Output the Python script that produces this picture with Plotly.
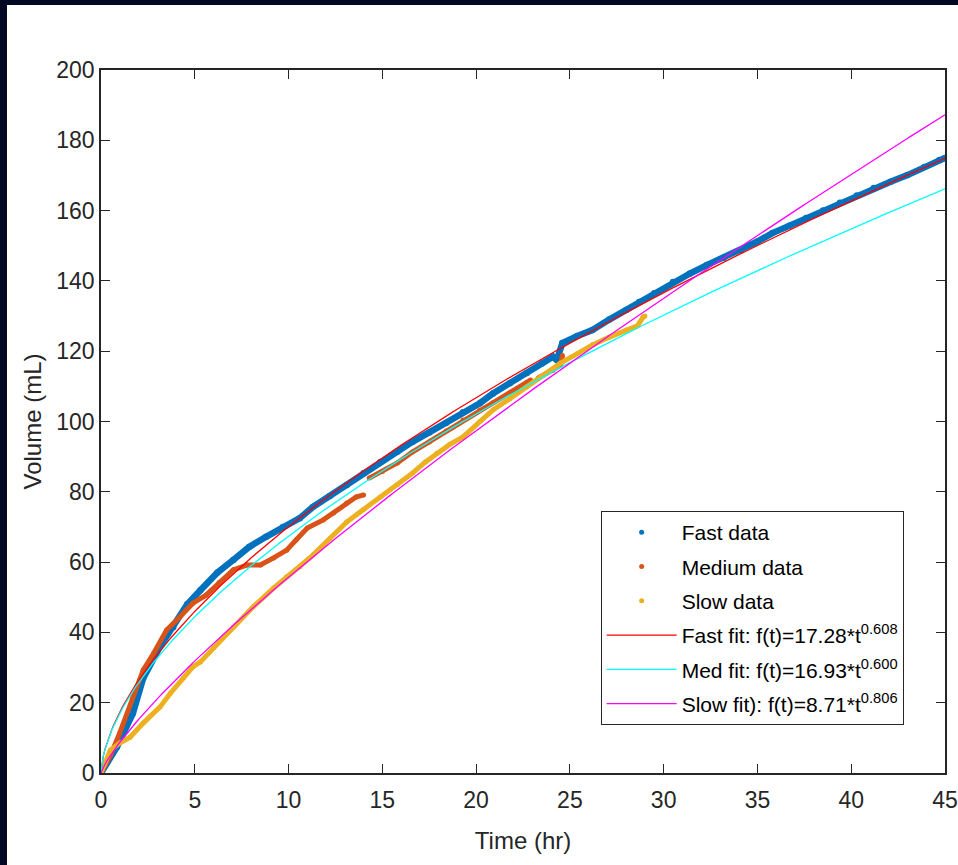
import numpy as np
import plotly.graph_objects as go

# ---------------- data ----------------
fast_t = [0, 0.85, 1.7, 2.25, 3.15, 3.85, 4.6, 5.3, 6.2, 7.05, 7.9, 8.8, 9.7, 10.6,
          11.3, 12.2, 13.1, 14.0, 14.9, 15.8, 16.6, 17.5, 18.4, 19.3, 20.2, 20.9,
          21.8, 22.7, 23.5, 24.1, 24.3, 24.6, 25.4, 26.2, 27.1, 28.0, 28.7, 29.5,
          30.5, 31.4, 32.3, 33.2, 34.1, 35.0, 35.8, 36.7, 37.6, 38.5, 39.4, 40.3,
          41.2, 42.1, 43.0, 43.9, 44.7, 45.0]
fast_v = [0, 7.4, 17, 27, 36, 41.5, 48, 52, 57, 60.6, 64.3, 67.2, 70, 72.5,
          75.7, 78.8, 81.9, 85.3, 88.5, 91.4, 94.2, 96.9, 99.6, 102.6, 105.2, 108,
          110.9, 113.8, 116.5, 118.4, 117.5, 122.3, 124.3, 126, 129, 131.7, 134, 136.5,
          139.7, 142.1, 144.5, 146.6, 148.8, 151.2, 153.6, 155.7, 157.9, 160, 162.2, 164.3,
          166.4, 168.2, 170.1, 172.4, 174.4, 175]

med_t = [0, 0.5, 1.0, 1.7, 2.25, 2.8, 3.5, 4.2, 4.9, 5.6, 6.3, 7.05, 7.8, 8.5, 9.2,
         9.9, 10.4, 11.0, 11.85, 12.4, 13.1, 13.6, 14.0, None,
         14.3, 15.0, 15.8, 16.6, 17.5, 18.4, 19.3, 20.2, 20.9, 21.8, 22.7, 22.9, None,
         23.3, 24.1, 24.5, 24.6]
med_v = [0, 5, 11.4, 21.6, 29.3, 34, 40.7, 44.4, 48.3, 50.6, 54.3, 57.8, 59.2, 59.2, 61.2,
         63.4, 66.3, 69.7, 72, 74, 76.8, 78.5, 79.1, None,
         83.9, 85.8, 88.2, 91.3, 94.2, 97.3, 100.4, 103.3, 105.3, 108.2, 111.2, 111.8, None,
         112.3, 114.6, 116, 118.8]

slow_t = [0, 0.5, 1.0, 1.55, 2.25, 3.15, 3.7, 4.4, 4.9, 5.3, 6.0, 7.05, 8.1, 9.2, 9.9,
          10.6, 11.3, 12.2, 13.1, 14.0, 14.9, 15.8, 16.6, 17.3, 17.9, 18.6, 19.3, 20.2,
          20.9, 21.8, 22.7, 23.6, 24.5, 25.4, 26.2, 27.1, 28.0, 28.6, 28.9, 29.0]
slow_v = [0, 6.5, 8.5, 10.2, 14.2, 18.8, 22.7, 27, 30.2, 31.6, 35.6, 41.5, 47.2, 52.6, 55.8,
          58.6, 62, 66.7, 71.4, 75, 78.5, 82, 85.3, 88.5, 91, 93.5, 95.6, 100,
          103.3, 106.5, 109.8, 113.2, 116.6, 119.3, 121.8, 124, 126, 127.2, 129.7, 130]

# fit coefficients (from the legend): f(t) = a * t^b
fit_names = ["Fast fit: f(t)=17.28*t<sup>0.608</sup>",
             "Med fit: f(t)=16.93*t<sup>0.600</sup>",
             "Slow fit): f(t)=8.71*t<sup>0.806</sup>"]
fit_a = [17.28, 16.93, 8.71]
fit_b = [0.608, 0.600, 0.806]
fit_colors = ["#FF0000", "#00FFFF", "#FF00FF"]

data_names = ["Fast data", "Medium data", "Slow data"]
data_colors = ["#0072BD", "#D95319", "#EDB120"]

x_ticks = [0, 5, 10, 15, 20, 25, 30, 35, 40, 45]
y_ticks = [0, 20, 40, 60, 80, 100, 120, 140, 160, 180, 200]

# ---------------- figure ----------------
fig = go.Figure()

series = [(fast_t, fast_v, 6.5), (med_t, med_v, 5), (slow_t, slow_v, 5)]
for (t, v, w), name, col in zip(series, data_names, data_colors):
    fig.add_trace(go.Scatter(x=t, y=v, mode="lines+markers", line=dict(color=col, width=w),
                             marker=dict(color=col, size=w),
                             connectgaps=False, showlegend=False, legendgroup=name,
                             hoverinfo="skip"))
    fig.add_trace(go.Scatter(x=[None], y=[None], mode="markers", name=name,
                             marker=dict(color=col, size=5), legendgroup=name))

t_fit = np.linspace(0, 45, 400)
for name, a, b, col in zip(fit_names, fit_a, fit_b, fit_colors):
    fig.add_trace(go.Scatter(x=t_fit, y=a * t_fit ** b, mode="lines", name=name,
                             legendgroup=name, line=dict(color=col, width=1.3)))

FONT = "Liberation Sans, Arial, sans-serif"
axis_common = dict(showline=True, linecolor="#262626", linewidth=1.5, mirror="ticks",
                   ticks="inside", ticklen=9, tickwidth=1.3, tickcolor="#262626",
                   showgrid=False, zeroline=False,
                   tickfont=dict(family=FONT, size=23, color="#262626"),
                   title_font=dict(family=FONT, size=24, color="#262626"))

fig.update_xaxes(range=[0, 45], tickvals=x_ticks, title_text="Time (hr)", title_standoff=20,
                 ticklabelstandoff=6, **axis_common)
fig.update_yaxes(range=[0, 200], tickvals=y_ticks, title_text="Volume (mL)", title_standoff=8,
                 **axis_common)

fig.update_layout(
    width=958, height=865,
    margin=dict(l=101, r=13, t=70, b=92, autoexpand=False),
    paper_bgcolor="#030824",
    plot_bgcolor="white",
    font=dict(family=FONT, color="#262626"),
    legend=dict(x=0.592, y=0.3727, xanchor="left", yanchor="top",
                bgcolor="white", bordercolor="#262626", borderwidth=1,
                font=dict(family=FONT, size=21, color="black"),
                itemwidth=70, tracegroupgap=4, traceorder="grouped"),
    shapes=[dict(type="rect", xref="paper", yref="paper", layer="below",
                 x0=(7 - 101) / 844, x1=(960 - 101) / 844,
                 y0=(773 - 867) / 703, y1=(773 - 5) / 703,
                 fillcolor="white", line=dict(width=0))],
)

fig.write_html("out.html", config={"displayModeBar": False},
               post_script="document.body.style.margin='0';"
                           "document.body.style.background='#030824';")
